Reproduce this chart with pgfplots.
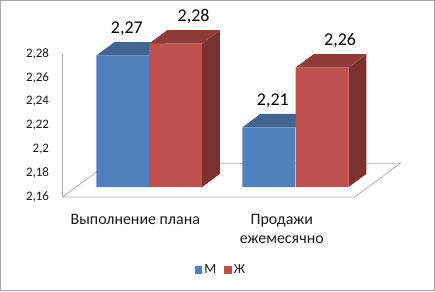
\documentclass[border=0pt]{standalone}
\usepackage{pgfplots}
\pgfplotsset{compat=1.18}
\usepackage{fontspec}
\setmainfont{Carlito}
\definecolor{bluefront}{HTML}{4F81BD}
\definecolor{bluetop}{HTML}{3F6590}
\definecolor{redfront}{HTML}{C0504D}
\definecolor{redtop}{HTML}{8F3B39}
\definecolor{redside}{HTML}{7A3130}
\definecolor{frameg}{HTML}{A6A6A6}
\definecolor{lineg}{HTML}{B0B0B0}
\definecolor{txt}{HTML}{1A1A1A}
\begin{document}
\begin{tikzpicture}[x=1pt,y=1pt]
% wall, floor, scale: the front plane of the chart
\begin{axis}[
  at={(0pt,0pt)}, anchor=south west,
  scale only axis, width=435pt, height=291pt,
  xmin=0, xmax=435, ymin=2.081667, ymax=2.324167,
  axis line style={draw=frameg, line width=1.5pt},
  major tick length=0pt,
  ytick={2.16,2.18,2.2,2.22,2.24,2.26,2.28},
  xtick={135,282},
  xticklabels={Выполнение плана,{Продажи\\ежемесячно}},
  /pgf/number format/.cd, fixed, use comma, precision=2, assume math mode=true,
  /pgfplots/.cd,
  yticklabel style={font=\fontsize{13}{15}\selectfont, text=txt, anchor=east, xshift=52pt},
  xticklabel style={font=\fontsize{16}{18.5}\selectfont, text=txt, align=center, anchor=north, yshift=80pt},
]
\addplot[lineg, line width=0.8pt] coordinates {(62,2.28) (62,2.16) (355,2.16) (401,2.18833) (108,2.18833) (62,2.16)};
\end{axis}
% the bars: base plane, set 10 units higher
\begin{axis}[
  at={(0pt,104pt)}, anchor=south west,
  scale only axis, width=435pt, height=187pt,
  xmin=0, xmax=435, ymin=2.16, ymax=2.31583,
  hide axis, clip=false,
  /pgf/number format/.cd, fixed, use comma, precision=2, assume math mode=true,
  /pgfplots/.cd,
  legend columns=2,
  legend style={draw=none, fill=none, at={(0.508,-0.444)}, anchor=center,
    font=\fontsize{14}{16}\selectfont, text=txt, inner sep=0pt,
    /tikz/every even column/.style={column sep=6pt}},
  legend image code/.code={\fill[#1] (0pt,-3.7pt) rectangle (7.5pt,3.7pt);},
]
\addplot[fill=bluetop, draw=none, forget plot] coordinates {(96,2.27) (149,2.27) (167,2.28117) (114,2.28117)} --cycle;
\addplot[fill=bluetop, draw=none, forget plot] coordinates {(242.5,2.21) (296,2.21) (314,2.22117) (260.5,2.22117)} --cycle;
\addplot[ybar, bar width=53, bar shift=0pt, fill=bluefront, draw=none,
  nodes near coords, point meta=y,
  every node near coord/.style={font=\fontsize{18}{20}\selectfont, text=black, anchor=center, xshift=4pt, yshift=27pt}]
  coordinates {(122.5,2.27) (269,2.21)};
\addlegendentry{М}
\addplot[fill=redside, draw=none, forget plot] coordinates {(202,2.16) (220,2.17117) (220,2.29117) (202,2.28)} --cycle;
\addplot[fill=redside, draw=none, forget plot] coordinates {(349,2.16) (367,2.17117) (367,2.27117) (349,2.26)} --cycle;
\addplot[fill=redtop, draw=none, forget plot] coordinates {(149,2.28) (202,2.28) (220,2.29117) (167,2.29117)} --cycle;
\addplot[fill=redtop, draw=none, forget plot] coordinates {(296,2.26) (349,2.26) (367,2.27117) (314,2.27117)} --cycle;
\addplot[ybar, bar width=53, bar shift=0pt, fill=redfront, draw=none,
  nodes near coords, point meta=y,
  every node near coord/.style={font=\fontsize{18}{20}\selectfont, text=black, anchor=center, xshift=18pt, yshift=27.5pt}]
  coordinates {(175.5,2.28) (322.5,2.26)};
\addlegendentry{Ж}
\end{axis}
\end{tikzpicture}
\end{document}
